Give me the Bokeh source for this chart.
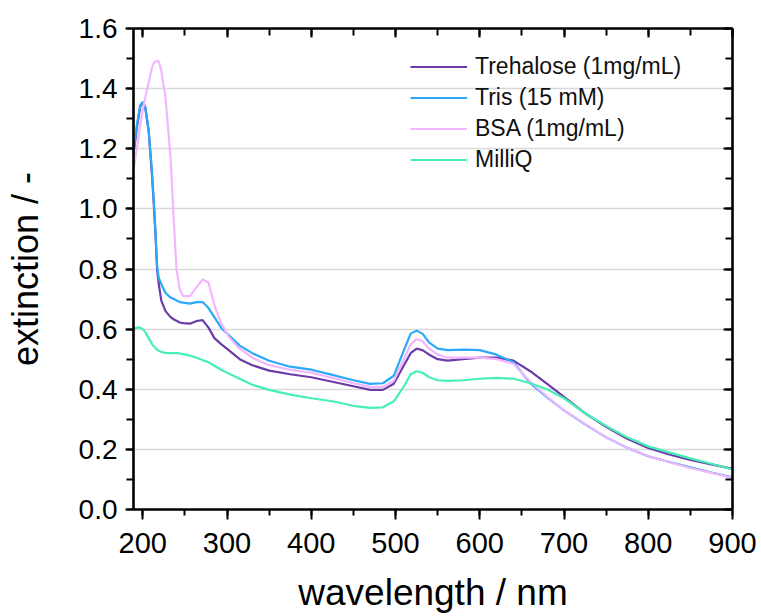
from bokeh.plotting import figure
from bokeh.models import (LinearAxis, SingleIntervalTicker, Range1d, Legend, LegendItem, CustomJSTickFormatter)
from bokeh.embed import file_html
from bokeh.resources import INLINE

wavelength = [189, 193, 197, 200, 203, 207, 211, 213, 215, 217, 219, 222, 227, 233, 237, 240, 244, 248, 256, 264,
              271, 278, 285, 293, 302, 315, 330, 350, 375, 400, 425, 450, 470, 485, 498, 510, 518, 525, 532, 540,
              550, 562, 580, 600, 620, 640, 660, 680, 700, 725, 750, 775, 800, 825, 850, 875, 900]

trehalose = [1.18, 1.27, 1.34, 1.355, 1.335, 1.26, 1.11, 1.02, 0.92, 0.80, 0.75, 0.695, 0.66, 0.64, 0.632, 0.628, 0.622, 0.62, 0.618, 0.627,
             0.63, 0.605, 0.57, 0.55, 0.53, 0.50, 0.48, 0.462, 0.45, 0.44, 0.425, 0.41, 0.398, 0.398, 0.418, 0.48, 0.52, 0.535, 0.53, 0.515,
             0.50, 0.495, 0.50, 0.505, 0.505, 0.495, 0.46, 0.418, 0.375, 0.32, 0.275, 0.235, 0.205, 0.183, 0.165, 0.15, 0.135]

tris = [1.19, 1.28, 1.345, 1.355, 1.34, 1.26, 1.12, 1.03, 0.93, 0.81, 0.77, 0.75, 0.72, 0.705, 0.70, 0.695, 0.69, 0.688, 0.685, 0.69,
        0.69, 0.67, 0.64, 0.605, 0.58, 0.545, 0.52, 0.495, 0.475, 0.465, 0.448, 0.43, 0.418, 0.42, 0.445, 0.53, 0.585, 0.595, 0.585, 0.555,
        0.535, 0.53, 0.532, 0.53, 0.515, 0.49, 0.42, 0.373, 0.33, 0.283, 0.24, 0.205, 0.177, 0.158, 0.14, 0.123, 0.107]

bsa = [1.13, 1.20, 1.28, 1.33, 1.37, 1.42, 1.47, 1.485, 1.49, 1.492, 1.49, 1.46, 1.37, 1.17, 0.95, 0.80, 0.73, 0.71, 0.71, 0.74,
       0.765, 0.755, 0.68, 0.62, 0.575, 0.535, 0.505, 0.48, 0.465, 0.455, 0.438, 0.42, 0.408, 0.408, 0.428, 0.50, 0.55, 0.567, 0.56, 0.535,
       0.515, 0.505, 0.505, 0.505, 0.50, 0.485, 0.425, 0.375, 0.33, 0.285, 0.24, 0.205, 0.178, 0.157, 0.138, 0.122, 0.105]

milliq = [0.60, 0.605, 0.605, 0.60, 0.59, 0.57, 0.55, 0.543, 0.537, 0.532, 0.528, 0.524, 0.521, 0.52, 0.52, 0.52, 0.519, 0.517, 0.512, 0.505,
          0.497, 0.49, 0.478, 0.465, 0.452, 0.435, 0.415, 0.398, 0.382, 0.37, 0.36, 0.345, 0.338, 0.34, 0.36, 0.41, 0.45, 0.46, 0.455, 0.44,
          0.43, 0.428, 0.43, 0.435, 0.438, 0.435, 0.42, 0.40, 0.37, 0.32, 0.278, 0.24, 0.21, 0.19, 0.17, 0.152, 0.133]

series_names = ["Trehalose (1mg/mL)", "Tris (15 mM)", "BSA (1mg/mL)", "MilliQ"]
series_values = [trehalose, tris, bsa, milliq]
series_colors = ["#6b3ca8", "#2ba8f7", "#f2b6ff", "#46f0b4"]

FONT = "Liberation Sans"

p = figure(width=761, height=616, output_backend="svg", toolbar_location=None,
           x_range=Range1d(189, 900), y_range=Range1d(0, 1.6),
           min_border_left=133, min_border_right=29, min_border_top=28, min_border_bottom=107,
           x_axis_location=None, y_axis_location=None)
p.outline_line_color = None
p.background_fill_color = "white"
p.border_fill_color = "white"

xt = SingleIntervalTicker(interval=100, num_minor_ticks=2)
yt = SingleIntervalTicker(interval=0.2, num_minor_ticks=2)

def style(ax, labels):
    ax.axis_line_width = 2.6
    ax.axis_line_color = "black"
    ax.major_tick_line_width = 2
    ax.minor_tick_line_width = 2
    ax.major_tick_line_color = "black"
    ax.minor_tick_line_color = "black"
    ax.major_label_text_font = FONT
    ax.axis_label_text_font = FONT
    ax.axis_label_text_font_style = "normal"
    ax.axis_label_text_color = "black"
    ax.major_label_text_color = "black"
    if not labels:
        ax.formatter = CustomJSTickFormatter(code="return '';")
        ax.major_label_standoff = 0
        ax.major_label_text_font_size = "8px"
        ax.major_tick_in = 9
        ax.major_tick_out = 0
        ax.minor_tick_in = 7
        ax.minor_tick_out = 0

bottom = LinearAxis(ticker=xt, axis_label="wavelength / nm")
style(bottom, True)
bottom.major_label_text_font_size = "29px"
bottom.axis_label_text_font_size = "37px"
bottom.major_tick_in = 0
bottom.major_tick_out = 10
bottom.minor_tick_in = 0
bottom.minor_tick_out = 6
bottom.major_label_standoff = 13
bottom.axis_label_standoff = 16
p.add_layout(bottom, "below")

left = LinearAxis(ticker=yt, axis_label="extinction / -")
style(left, True)
left.major_label_text_font_size = "28px"
left.axis_label_text_font_size = "36px"
left.major_tick_in = 0
left.major_tick_out = 8
left.minor_tick_in = 0
left.minor_tick_out = 7
left.major_label_standoff = 8
left.axis_label_standoff = 30
left.formatter = CustomJSTickFormatter(code="return tick.toFixed(1);")
p.add_layout(left, "left")

top = LinearAxis(ticker=SingleIntervalTicker(interval=100, num_minor_ticks=2))
style(top, False)
p.add_layout(top, "above")

right = LinearAxis(ticker=SingleIntervalTicker(interval=0.2, num_minor_ticks=2))
style(right, False)
p.add_layout(right, "right")

p.xgrid.visible = False
p.ygrid.ticker = yt
p.ygrid.grid_line_color = "#d9d9d9"
p.ygrid.grid_line_width = 1.5

items = []
for name, vals, col in zip(series_names, series_values, series_colors):
    r = p.line(wavelength, vals, line_color=col, line_width=2.2)
    items.append(LegendItem(label=name, renderers=[r]))

legend = Legend(items=items, location=(277, 334))
legend.border_line_color = None
legend.background_fill_alpha = 0
legend.padding = 0
legend.margin = 0
legend.spacing = 0
legend.glyph_width = 57
legend.glyph_height = 31
legend.label_height = 31
legend.label_standoff = 8
legend.label_text_font = FONT
legend.label_text_font_size = "23px"
legend.label_text_color = "#111111"
p.add_layout(legend, "center")

open("out.html", "w").write(file_html(p, INLINE))
